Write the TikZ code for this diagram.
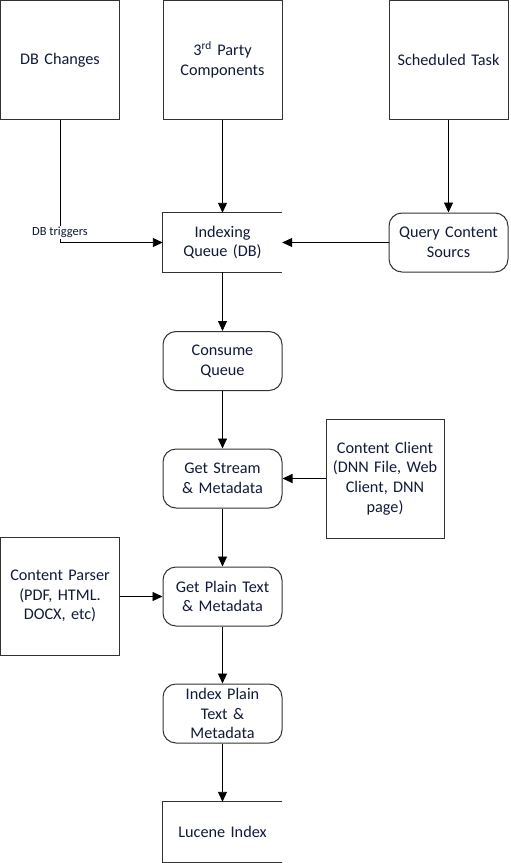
\documentclass[tikz,border=0pt]{standalone}
\usepackage{fontspec}
\setmainfont{Carlito}
\usetikzlibrary{arrows.meta}
\definecolor{txt}{RGB}{16,26,56}
\definecolor{edge}{RGB}{50,50,50}
\tikzset{
  base/.style={minimum width=119bp, inner sep=2bp, align=center, text=txt,
    font=\fontsize{16.3pt}{19.8pt}\selectfont, text width=114bp},
  sq/.style={base, draw=edge, line width=1bp},
  rnd/.style={base, draw=edge, line width=1bp, rounded corners=13bp},
  open/.style={base},
  arr/.style={draw=black, line width=0.9bp, -{Triangle[length=10bp,width=9bp]}},
  openline/.style={draw=edge, line width=1bp},
}
\begin{document}
\begin{tikzpicture}[x=1bp,y=-1bp]
\useasboundingbox (0,0) rectangle (511,863);
\node[sq, minimum height=118bp] (dbc) at (60,60) {DB Changes};
\node[sq, minimum height=118bp] (third) at (222.5,60) {3\textsuperscript{rd} Party\\Components};
\node[sq, minimum height=118bp] (sched) at (448.5,60) {Scheduled Task};
\node[open, minimum height=59bp] (idx) at (222.5,242.5) {Indexing\\Queue (DB)};
\draw[openline] (idx.north east) -- (idx.north west) -- (idx.south west) -- (idx.south east);
\node[rnd, minimum height=59bp] (qcs) at (448.5,242.5) {Query Content\\Sourcs};
\node[rnd, minimum height=59bp] (cons) at (222.5,361) {Consume\\Queue};
\node[rnd, minimum height=59bp] (gs) at (222.5,478.5) {Get Stream\\\&\ Metadata};
\node[sq, minimum height=119bp, minimum width=118bp] (cc) at (385,478.5) {Content Client\\(DNN File, Web\\Client, DNN\\page)};
\node[sq, minimum height=118bp] (cp) at (60,596) {Content Parser\\(PDF, HTML.\\DOCX, etc)\\[19.8pt]};
\node[rnd, minimum height=59bp] (gp) at (222.5,596.5) {Get Plain Text\\\&\ Metadata};
\node[rnd, minimum height=59bp] (ip) at (222.5,713.5) {Index Plain\\Text \&\\Metadata};
\node[open, minimum height=60bp] (luc) at (222.5,832) {Lucene Index};
\draw[openline] (luc.north east) -- (luc.north west) -- (luc.south west) -- (luc.south east);
\coordinate (bend) at (dbc.south |- idx.west);
\draw[arr] (dbc.south) -- (bend) -- (idx.west);
\node[fill=white, inner sep=1bp, text=txt, font=\fontsize{12.5pt}{14pt}\selectfont] (trig) at (60,232.5) {DB triggers};
\draw[arr] (third.south) -- (idx.north);
\draw[arr] (sched.south) -- (qcs.north);
\draw[arr] (qcs.west) -- (idx.east);
\draw[arr] (idx.south) -- (cons.north);
\draw[arr] (cons.south) -- (gs.north);
\draw[arr] (cc.west) -- (gs.east);
\draw[arr] (gs.south) -- (gp.north);
\draw[arr] (cp.east |- gp.west) -- (gp.west);
\draw[arr] (gp.south) -- (ip.north);
\draw[arr] (ip.south) -- (luc.north);
\end{tikzpicture}
\end{document}
